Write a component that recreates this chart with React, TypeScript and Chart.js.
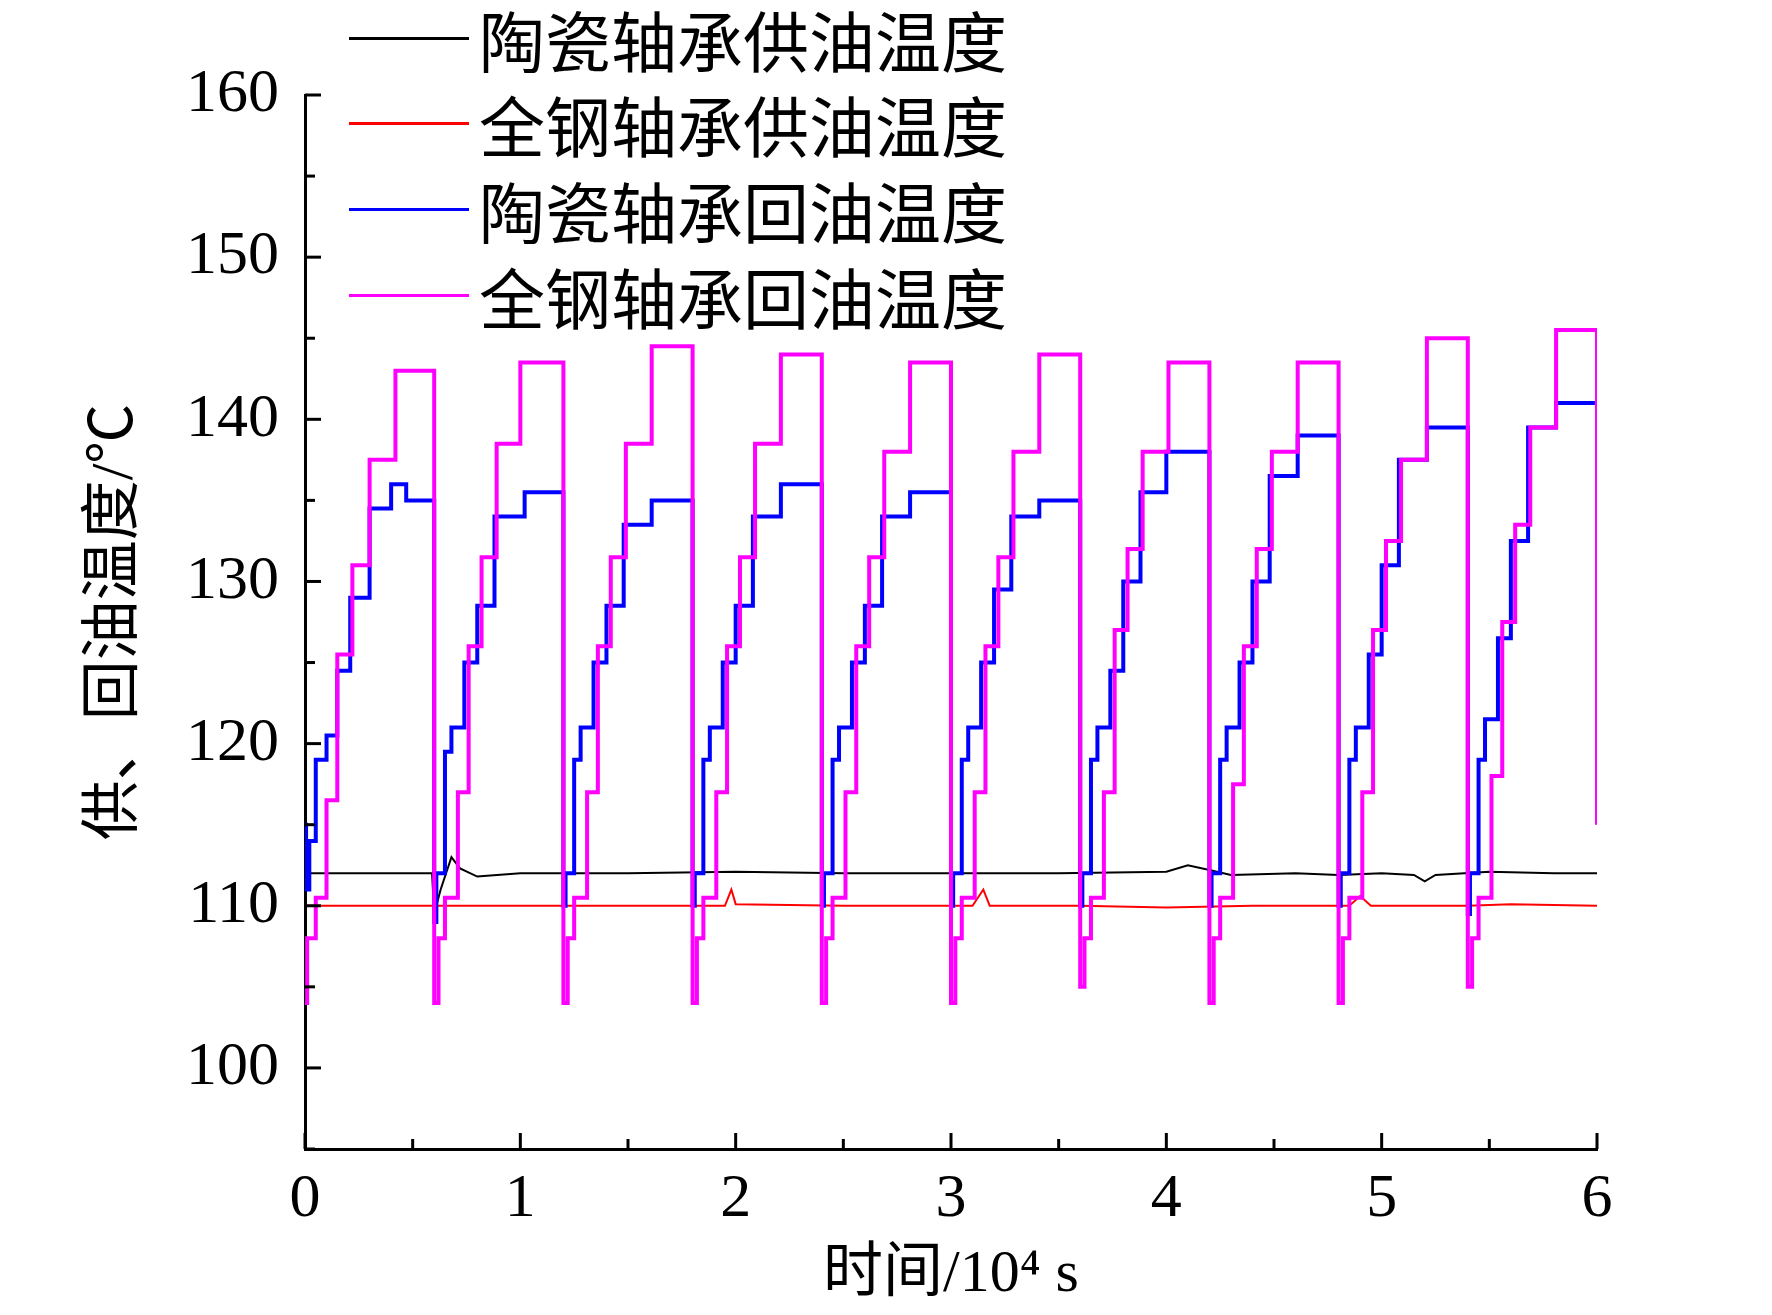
import { useEffect, useRef } from 'react'
import { Chart, registerables } from 'chart.js'

Chart.register(...registerables)

const W = 1772
const H = 1315
const FONT = '"Liberation Serif", "Noto Sans CJK SC", serif'

const seriesNames = ['陶瓷轴承供油温度', '全钢轴承供油温度', '陶瓷轴承回油温度', '全钢轴承回油温度']
const seriesColors = ['#000000', '#ff0000', '#0000ff', '#ff00ff']
const xTicks = [0, 1, 2, 3, 4, 5, 6]
const yTicks = [100, 110, 120, 130, 140, 150, 160]

// x in 10^4 s, y in °C
const ceramicSupply: [number, number][] = [
  [0, 115], [0.02, 112], [0.1, 112], [0.3, 112], [0.59, 112], [0.6, 109.5], [0.63, 111], [0.68, 113], [0.72, 112.3],
  [0.8, 111.8], [1.0, 112], [1.5, 112], [2.0, 112.1], [2.5, 112], [3.0, 112], [3.5, 112], [4.0, 112.1],
  [4.1, 112.5], [4.2, 112.2], [4.3, 111.9], [4.6, 112], [4.8, 111.9], [5.0, 112], [5.15, 111.9],
  [5.2, 111.5], [5.25, 111.9], [5.5, 112.1], [5.8, 112], [6.0, 112],
]
const steelSupply: [number, number][] = [
  [0, 110], [0.5, 110], [1.0, 110], [1.5, 110], [1.95, 110], [1.98, 111], [2.0, 110.1], [2.5, 110],
  [3.1, 110], [3.15, 111], [3.18, 110], [3.6, 110], [4.0, 109.9], [4.4, 110], [4.85, 110], [4.9, 110.6],
  [4.95, 110], [5.4, 110], [5.6, 110.1], [6.0, 110],
]
const ceramicReturn: [number, number][] = [
  [0, 115], [0.005, 111], [0.02, 114], [0.05, 119], [0.1, 120.5], [0.15, 124.5], [0.21, 129], [0.3, 134.5], [0.4, 136], [0.47, 135],
  [0.6, 109], [0.61, 112], [0.65, 119.5], [0.68, 121], [0.74, 125], [0.8, 128.5], [0.88, 134], [1.02, 135.5],
  [1.2, 110], [1.21, 112], [1.25, 119], [1.28, 121], [1.34, 125], [1.4, 128.5], [1.48, 133.5], [1.61, 135],
  [1.8, 110], [1.81, 112], [1.85, 119], [1.88, 121], [1.94, 125], [2.0, 128.5], [2.08, 134], [2.21, 136],
  [2.4, 110], [2.41, 112], [2.45, 119], [2.48, 121], [2.54, 125], [2.6, 128.5], [2.68, 134], [2.81, 135.5],
  [3.0, 110], [3.01, 112], [3.05, 119], [3.08, 121], [3.14, 125], [3.2, 129.5], [3.28, 134], [3.41, 135],
  [3.6, 110], [3.61, 112], [3.65, 119], [3.68, 121], [3.74, 124.5], [3.8, 130], [3.88, 135.5], [4.0, 138],
  [4.2, 110], [4.21, 112], [4.25, 119], [4.28, 121], [4.34, 125], [4.4, 130], [4.48, 136.5], [4.61, 139],
  [4.8, 110], [4.81, 112], [4.85, 119], [4.88, 121], [4.94, 125.5], [5.0, 131], [5.08, 137.5], [5.21, 139.5],
  [5.4, 109.5], [5.41, 112], [5.45, 119], [5.48, 121.5], [5.54, 126.5], [5.6, 132.5], [5.68, 139.5], [5.81, 141],
  [6.0, 130],
]
const steelReturn: [number, number][] = [
  [0, 104], [0.01, 108], [0.05, 110.5], [0.1, 116.5], [0.15, 125.5], [0.22, 131], [0.3, 137.5], [0.42, 143],
  [0.6, 104], [0.62, 108], [0.65, 110.5], [0.71, 117], [0.76, 126], [0.82, 131.5], [0.89, 138.5], [1.0, 143.5],
  [1.2, 104], [1.22, 108], [1.25, 110.5], [1.31, 117], [1.36, 126], [1.42, 131.5], [1.49, 138.5], [1.61, 144.5],
  [1.8, 104], [1.82, 108], [1.85, 110.5], [1.91, 117], [1.96, 126], [2.02, 131.5], [2.09, 138.5], [2.21, 144],
  [2.4, 104], [2.42, 108], [2.45, 110.5], [2.51, 117], [2.56, 126], [2.62, 131.5], [2.69, 138], [2.81, 143.5],
  [3.0, 104], [3.02, 108], [3.05, 110.5], [3.11, 117], [3.16, 126], [3.22, 131.5], [3.29, 138], [3.41, 144],
  [3.6, 105], [3.62, 108], [3.65, 110.5], [3.71, 117], [3.76, 127], [3.82, 132], [3.89, 138], [4.01, 143.5],
  [4.2, 104], [4.22, 108], [4.25, 110.5], [4.31, 117.5], [4.36, 126], [4.42, 132], [4.49, 138], [4.61, 143.5],
  [4.8, 104], [4.82, 108], [4.85, 110.5], [4.91, 117], [4.96, 127], [5.02, 132.5], [5.09, 137.5], [5.21, 145],
  [5.4, 105], [5.42, 108], [5.45, 110.5], [5.51, 118], [5.56, 127.5], [5.62, 133.5], [5.69, 139.5], [5.81, 145.5],
  [6.0, 115],
]

const inwardTicks = {
  id: 'inwardTicks',
  afterDraw(chart: Chart) {
    const { ctx, chartArea } = chart
    const xs = chart.scales.x
    const ys = chart.scales.y
    ctx.save()
    ctx.strokeStyle = '#000'
    ctx.lineWidth = 3
    for (let v = 0; v <= 6.001; v += 0.5) {
      const px = xs.getPixelForValue(v)
      const len = Math.abs(v - Math.round(v)) < 1e-6 ? 16 : 10
      ctx.beginPath()
      ctx.moveTo(px, chartArea.bottom)
      ctx.lineTo(px, chartArea.bottom - len)
      ctx.stroke()
    }
    for (let v = 95; v <= 160.001; v += 5) {
      const py = ys.getPixelForValue(v)
      const len = v % 10 === 0 ? 16 : 10
      ctx.beginPath()
      ctx.moveTo(chartArea.left, py)
      ctx.lineTo(chartArea.left + len, py)
      ctx.stroke()
    }
    ctx.restore()
  },
}

export default function App() {
  const ref = useRef<HTMLCanvasElement>(null)

  useEffect(() => {
    document.body.style.margin = '0'
    if (!ref.current) return
    const data = [ceramicSupply, steelSupply, ceramicReturn, steelReturn]
    const chart = new Chart(ref.current, {
      type: 'line',
      data: {
        datasets: data.map((d, i) => ({
          label: seriesNames[i],
          data: d.map(([x, y]) => ({ x, y })),
          borderColor: seriesColors[i],
          borderWidth: i < 2 ? 2 : 4,
          pointRadius: 0,
          stepped: i < 2 ? false : ('before' as const),
          tension: 0,
        })).reverse(),
      },
      options: {
        animation: false,
        responsive: false,
        devicePixelRatio: 1,
        layout: { padding: { top: 95, right: 175, left: 0, bottom: 0 } },
        plugins: { legend: { display: false }, tooltip: { enabled: false } },
        scales: {
          x: {
            type: 'linear',
            min: 0,
            max: 6,
            afterBuildTicks: (s) => { s.ticks = xTicks.map((v) => ({ value: v })) },
            afterFit: (s) => { s.height = H - 1149 },
            grid: { display: false },
            border: { display: true, color: '#000', width: 3 },
            ticks: { color: '#000', font: { family: FONT, size: 62 }, padding: 6 },
            title: { display: true, text: '时间/10⁴ s', color: '#000', font: { family: FONT, size: 60 }, padding: { top: 0 } },
          },
          y: {
            min: 95,
            max: 160,
            afterBuildTicks: (s) => { s.ticks = yTicks.map((v) => ({ value: v })) },
            afterFit: (s) => { s.width = 305 },
            grid: { display: false },
            border: { display: true, color: '#000', width: 3 },
            ticks: { color: '#000', font: { family: FONT, size: 62 }, padding: 18 },
            title: { display: true, text: '供、回油温度/℃', color: '#000', font: { family: FONT, size: 60 }, padding: { top: 80, bottom: 0 } },
          },
        },
      },
      plugins: [inwardTicks],
    })
    return () => chart.destroy()
  }, [])

  const legendY = [38, 123, 209, 295]
  return (
    <div style={{ position: 'relative', width: W, height: H, background: '#fff' }}>
      <canvas ref={ref} width={W} height={H} />
      {seriesNames.map((n, i) => (
        <div key={n} style={{ position: 'absolute', left: 349, top: legendY[i] - 40, height: 80, display: 'flex', alignItems: 'center' }}>
          <span style={{ width: 120, height: 3, background: seriesColors[i], display: 'inline-block' }} />
          <span style={{ marginLeft: 10, fontFamily: '"Noto Sans CJK SC", serif', fontSize: 66, color: '#000', lineHeight: '80px' }}>{n}</span>
        </div>
      ))}
    </div>
  )
}
